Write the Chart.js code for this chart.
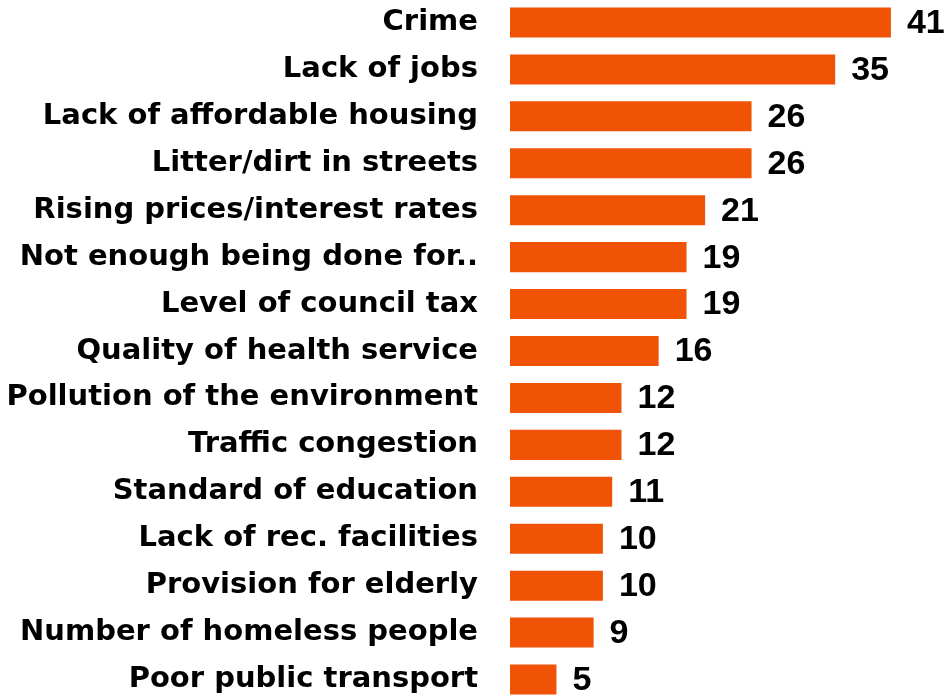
<!DOCTYPE html>
<html>
<head>
<meta charset="utf-8">
<script src="https://cdn.jsdelivr.net/npm/chart.js@4/dist/chart.umd.min.js"></script>
<style>
  html, body { margin: 0; padding: 0; background: #fff; overflow: hidden; }
  #wrap { position: absolute; left: 0; top: -1px; width: 949px; height: 704px; }
</style>
</head>
<body>
<div id="wrap"><canvas id="issuesChart" width="949" height="704"></canvas></div>
<script>
// categories and values (percent)
const issues = [
  "Crime",
  "Lack of jobs",
  "Lack of affordable housing",
  "Litter/dirt in streets",
  "Rising prices/interest rates",
  "Not enough being done for..",
  "Level of council tax",
  "Quality of health service",
  "Pollution of the environment",
  "Traffic congestion",
  "Standard of education",
  "Lack of rec. facilities",
  "Provision for elderly",
  "Number of homeless people",
  "Poor public transport"
];
const percents = [41, 35, 26, 26, 21, 19, 19, 16, 12, 12, 11, 10, 10, 9, 5];

const BAR_COLOR = "#F05206";

// draw the number just right of each bar
const valueLabels = {
  id: "valueLabels",
  afterDatasetsDraw(chart) {
    const ctx = chart.ctx;
    const meta = chart.getDatasetMeta(0);
    ctx.save();
    ctx.font = "bold 34px 'Liberation Sans', Arial, sans-serif";
    ctx.fillStyle = "#000";
    ctx.textAlign = "left";
    ctx.textBaseline = "middle";
    meta.data.forEach((bar, i) => {
      ctx.fillText(String(percents[i]), bar.x + 16, bar.y + 1);
    });
    ctx.restore();
  }
};

new Chart(document.getElementById("issuesChart").getContext("2d"), {
  type: "bar",
  data: {
    labels: issues,
    datasets: [{
      data: percents,
      backgroundColor: BAR_COLOR,
      borderWidth: 0,
      barPercentage: 0.64,
      categoryPercentage: 1
    }]
  },
  options: {
    indexAxis: "y",
    responsive: false,
    animation: false,
    devicePixelRatio: 1,
    layout: { padding: 0 },
    plugins: {
      legend: { display: false },
      tooltip: { enabled: false }
    },
    scales: {
      x: {
        display: false,
        min: 0,
        max: 47.25
      },
      y: {
        grid: { display: false, drawTicks: false },
        border: { display: false },
        ticks: {
          color: "#000",
          padding: 32,
          autoSkip: false,
          font: { family: "'DejaVu Sans', sans-serif", weight: "bold", size: 29 }
        },
        afterFit(scale) {
          scale.width = 510; // bars start at x=510
          // no extra room above/below for the tick labels
          scale.paddingTop = 0;
          scale.paddingBottom = 0;
        }
      }
    }
  },
  plugins: [valueLabels]
});
</script>
</body>
</html>
